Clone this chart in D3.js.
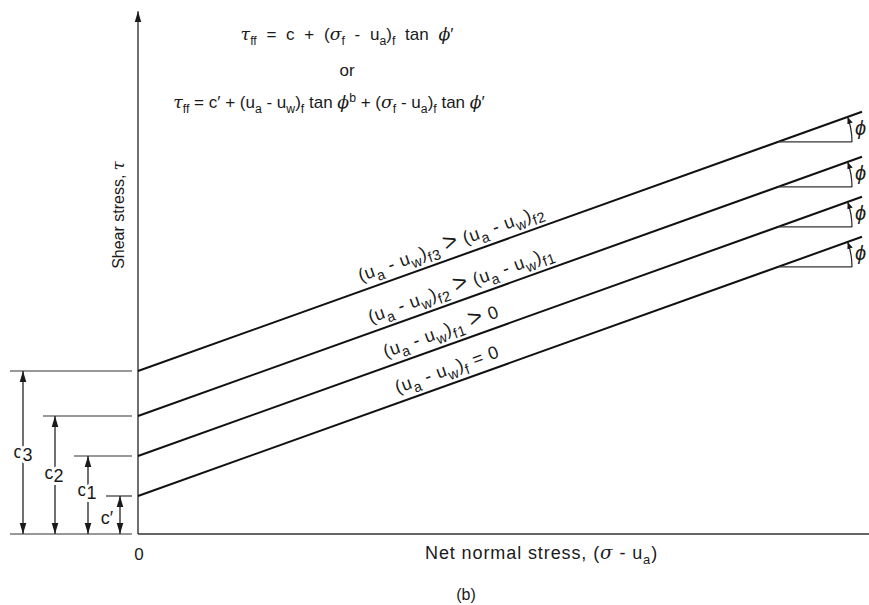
<!DOCTYPE html>
<html>
<head>
<meta charset="utf-8">
<script src="https://cdn.jsdelivr.net/npm/d3@7/dist/d3.min.js"></script>
<style>
  html, body { margin: 0; padding: 0; background: #fff; }
  svg { display: block; }
  text { font-family: "Liberation Sans", Arial, Helvetica, sans-serif; fill: #1a1a1a; }
</style>
</head>
<body>
<svg id="chart" width="869" height="605"></svg>
<script>
// Extended Mohr-Coulomb failure envelopes at increasing matric suction
const envelopeNames = ["c'", "c1", "c2", "c3"];
const intercepts = [9.5, 19.5, 29.5, 40.75];      // cohesion intercepts (shear-stress units)
const tanPhi = 0.358;                              // tan φ′, same for every envelope
const sigmaEnd = 181;                              // net normal stress where envelopes stop
const sigmaArcStart = 160;                         // where each φ angle marker starts
const sigmaArcEnd = 178.5;                         // end of the horizontal reference of φ
const labelSigma = [78.5, 77, 82, 79.5];           // position of the suction labels along each envelope

// suction labels, one per envelope (bottom to top)
const suctionLabels = [
  [["(u",""],["a","sub"],[" - u",""],["w","sub"],[")",""],["f","sub"],[" = 0",""]],
  [["(u",""],["a","sub"],[" - u",""],["w","sub"],[")",""],["f1","sub"],[" ",""],[">","big"],[" 0",""]],
  [["(u",""],["a","sub"],[" - u",""],["w","sub"],[")",""],["f2","sub"],[" ",""],[">","big"],[" (u",""],["a","sub"],[" - u",""],["w","sub"],[")",""],["f1","sub"]],
  [["(u",""],["a","sub"],[" - u",""],["w","sub"],[")",""],["f3","sub"],[" ",""],[">","big"],[" (u",""],["a","sub"],[" - u",""],["w","sub"],[")",""],["f2","sub"]]
];

const formulaTop = [["τ","g"],["ff","sub"],[" = c + (",""],["σ","g"],["f","sub"],[" - u",""],["a","sub"],[")",""],["f","sub"],[" tan ",""],["ϕ","g"],["′",""]];
const formulaBottom = [["τ","g"],["ff","sub"],[" = c′ + (u",""],["a","sub"],[" - u",""],["w","sub"],[")",""],["f","sub"],[" tan ",""],["ϕ","g"],["b","sup"],[" + (",""],["σ","g"],["f","sub"],[" - u",""],["a","sub"],[")",""],["f","sub"],[" tan ",""],["ϕ","g"],["′",""]];
const xTitle = [["Net normal stress, (",""],["σ","g"],[" - u",""],["a","sub"],[")",""]];
const yTitle = [["Shear stress, ",""],["τ","g"]];

const svg = d3.select("#chart");
const x = d3.scaleLinear().domain([0, 183]).range([138, 870]);
const y = d3.scaleLinear().domain([0, 131]).range([534, 10]);

const defs = svg.append("defs");
defs.append("marker").attr("id", "head").attr("viewBox", "0 0 10 10")
  .attr("refX", 10).attr("refY", 5).attr("markerWidth", 11).attr("markerHeight", 11)
  .attr("markerUnits", "userSpaceOnUse").attr("orient", "auto-start-reverse")
  .append("path").attr("d", "M0,2L10,5L0,8Z").attr("fill", "#1a1a1a");
defs.append("marker").attr("id", "small").attr("viewBox", "0 0 10 10")
  .attr("refX", 10).attr("refY", 5).attr("markerWidth", 7).attr("markerHeight", 7)
  .attr("markerUnits", "userSpaceOnUse").attr("orient", "auto")
  .append("path").attr("d", "M0,1L10,5L0,9Z").attr("fill", "#1a1a1a");

// rich text helper: normal, greek italic, subscript, superscript pieces
function rich(sel, parts, size, subScale = 0.72) {
  let off = 0;
  parts.forEach(([t, k]) => {
    const target = k === "sub" ? size * 0.3 : k === "sup" ? -size * 0.38 : 0;
    const ts = sel.append("tspan").text(t).attr("dy", target - off);
    off = target;
    if (k === "sub" || k === "sup") ts.attr("font-size", size * subScale);
    if (k === "big") ts.attr("font-size", size * 1.35);
    if (k === "g") ts.attr("font-style", "italic").attr("font-family", "'DejaVu Serif', serif").attr("font-size", size * 1.02);
  });
  return sel;
}

// axes
svg.append("line").attr("x1", x(0)).attr("y1", y(0)).attr("x2", x(0)).attr("y2", y(130.7))
  .attr("stroke", "#333").attr("stroke-width", 1.4).attr("marker-end", "url(#head)");
svg.append("line").attr("x1", x(0)).attr("y1", y(0)).attr("x2", 869).attr("y2", y(0))
  .attr("stroke", "#333").attr("stroke-width", 1.6);

// failure envelopes
const env = d => [[0, d], [sigmaEnd, d + tanPhi * sigmaEnd]];
const lineGen = d3.line().x(p => x(p[0])).y(p => y(p[1]));
svg.selectAll("path.env").data(intercepts).join("path").attr("class", "env")
  .attr("d", d => lineGen(env(d))).attr("fill", "none")
  .attr("stroke", "#111").attr("stroke-width", 2);

// φ angle markers
const phiRad = Math.atan(tanPhi * (y(0) - y(1)) / (x(1) - x(0)));
intercepts.forEach(c => {
  const tau = c + tanPhi * sigmaArcStart;
  const cx = x(sigmaArcStart), cy = y(tau);
  const r = x(sigmaArcEnd) - cx;
  svg.append("line").attr("x1", cx).attr("y1", cy).attr("x2", x(sigmaArcEnd)).attr("y2", cy)
    .attr("stroke", "#333").attr("stroke-width", 1.2);
  const ex = cx + r * Math.cos(phiRad), ey = cy - r * Math.sin(phiRad);
  svg.append("path").attr("d", `M${cx + r},${cy} A${r},${r} 0 0,0 ${ex},${ey}`)
    .attr("fill", "none").attr("stroke", "#222").attr("stroke-width", 1.2)
    .attr("marker-end", "url(#small)");
  svg.append("text").attr("x", cx + r + 3).attr("y", cy - 7)
    .attr("font-family", "'DejaVu Serif', serif").attr("font-style", "italic")
    .attr("font-size", 20).text("ϕ");
});

// suction labels along each envelope
const angDeg = -phiRad * 180 / Math.PI;
intercepts.forEach((c, i) => {
  const s = labelSigma[i];
  const px = x(s), py = y(c + tanPhi * s);
  const g = svg.append("g").attr("transform", `translate(${px},${py}) rotate(${angDeg})`);
  rich(g.append("text").attr("x", 0).attr("y", -9).attr("text-anchor", "middle")
    .attr("font-size", 18).attr("letter-spacing", 0.6), suctionLabels[i], 18, 0.8);
});

// cohesion dimensions on the left
const dimX = [120, 88, 55, 23];
const extX = [106, 74, 43, 10];
const labelPos = [[107, 524], [87, 496], [54, 479], [23, 458]];
svg.append("line").attr("x1", 10).attr("x2", 132).attr("y1", y(0)).attr("y2", y(0))
  .attr("stroke", "#333").attr("stroke-width", 1.2);
intercepts.forEach((c, i) => {
  svg.append("line").attr("x1", extX[i]).attr("x2", 132).attr("y1", y(c)).attr("y2", y(c))
    .attr("stroke", "#333").attr("stroke-width", 1.2);
  svg.append("line").attr("x1", dimX[i]).attr("x2", dimX[i]).attr("y1", y(0)).attr("y2", y(c))
    .attr("stroke", "#222").attr("stroke-width", 1.3)
    .attr("marker-start", "url(#head)").attr("marker-end", "url(#head)");
  const t = svg.append("text").attr("x", labelPos[i][0]).attr("y", labelPos[i][1])
    .attr("text-anchor", "middle").attr("font-size", 18)
    .attr("stroke", "#fff").attr("stroke-width", 6).attr("paint-order", "stroke");
  const nm = envelopeNames[i];
  if (nm === "c'") t.text("c′");
  else { t.append("tspan").text("c"); t.append("tspan").attr("dy", 3).text(nm.slice(1)); }
});

// formulas
rich(svg.append("text").attr("x", 347).attr("y", 40).attr("text-anchor", "middle")
  .attr("font-size", 17).attr("word-spacing", 5), formulaTop, 17);
svg.append("text").attr("x", 347).attr("y", 76).attr("text-anchor", "middle").attr("font-size", 17).text("or");
rich(svg.append("text").attr("x", 329).attr("y", 108).attr("text-anchor", "middle").attr("font-size", 17), formulaBottom, 17);

// axis titles
svg.append("text").attr("x", x(0) + 1).attr("y", 560).attr("text-anchor", "middle").attr("font-size", 17).text("0");
rich(svg.append("text").attr("x", 425).attr("y", 559).attr("font-size", 18).attr("letter-spacing", 0.9), xTitle, 18);
svg.append("text").attr("x", 466).attr("y", 600).attr("text-anchor", "middle").attr("font-size", 16).text("(b)");
rich(svg.append("text").attr("transform", "translate(124,215) rotate(-90)").attr("text-anchor", "middle").attr("font-size", 16), yTitle, 16);
</script>
</body>
</html>
